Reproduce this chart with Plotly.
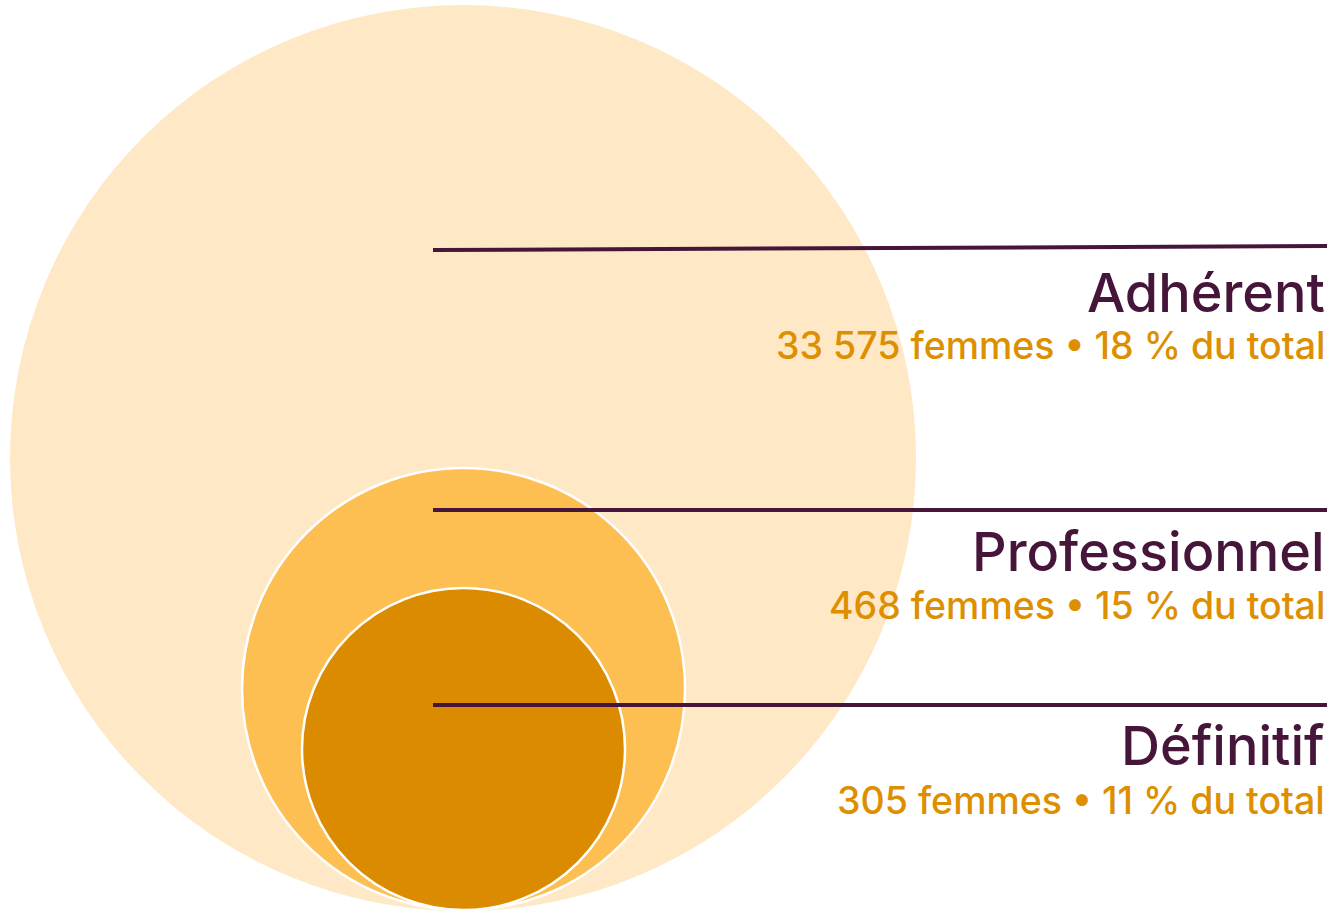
import plotly.graph_objects as go

# Data
categories = ["Adhérent", "Professionnel", "Définitif"]
femmes = [33575, 468, 305]
pct_total = [18, 15, 11]

# Styling / layout constants
W, H = 1334, 911
circle_boxes = [(10, 5, 916, 911), (242, 468, 685, 910), (302, 588, 625, 910)]
circle_fill = ["#FFE8C5", "#FDBE52", "#DB8B00"]
circle_line = [0, 2.5, 2.5]
line_y = [(250, 246), (510, 510), (705, 705)]
title_y = [292, 551, 745]
sub_y = [345, 605, 800]
DARK = "#45163A"
ORANGE = "#DD8F00"
FONT = "Inter"

fig = go.Figure()
fig.add_trace(go.Scatter(x=[0, W], y=[0, H], mode="markers",
                         marker=dict(opacity=0), hoverinfo="skip", showlegend=False))

for (x0, y0, x1, y1), fc, lw in zip(circle_boxes, circle_fill, circle_line):
    fig.add_shape(type="circle", xref="x", yref="y", x0=x0, y0=y0, x1=x1, y1=y1,
                  fillcolor=fc, line=dict(color="white", width=lw) if lw else dict(width=0),
                  layer="above")

for (ya, yb) in line_y:
    fig.add_shape(type="line", xref="x", yref="y", x0=433, y0=ya, x1=1327, y1=yb,
                  line=dict(color=DARK, width=4), layer="above")

def fmt(n):
    return f"{n:,}".replace(",", " ")

for cat, n, p, ty, sy in zip(categories, femmes, pct_total, title_y, sub_y):
    fig.add_annotation(x=1327, y=ty, xref="x", yref="y", text=cat, showarrow=False,
                       xanchor="right", yanchor="middle",
                       font=dict(family=FONT, size=54, color=DARK, weight=500))
    fig.add_annotation(x=1327, y=sy, xref="x", yref="y",
                       text=f"{fmt(n)} femmes • {p} % du total", showarrow=False,
                       xanchor="right", yanchor="middle",
                       font=dict(family=FONT, size=37.5, color=ORANGE, weight=500))

fig.update_layout(
    width=W, height=H, margin=dict(l=0, r=0, t=0, b=0),
    paper_bgcolor="white", plot_bgcolor="white",
    xaxis=dict(range=[0, W], visible=False, fixedrange=True),
    yaxis=dict(range=[H, 0], visible=False, fixedrange=True),
    showlegend=False,
)

fig.write_html("out.html", config={"displayModeBar": False},
               post_script="document.body.style.margin='0';")
